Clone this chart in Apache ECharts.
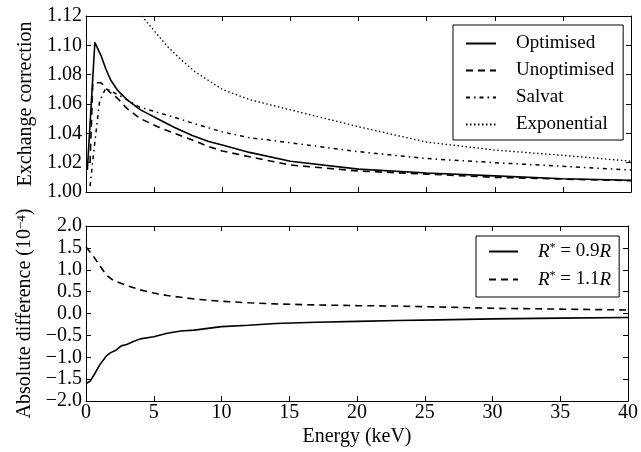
<!DOCTYPE html>
<html>
<head>
<meta charset="utf-8">
<script src="https://cdn.jsdelivr.net/npm/echarts@6/dist/echarts.min.js"></script>
<style>
  html, body { margin: 0; padding: 0; background: #fff; }
  #chart-container { width: 641px; height: 452px; }
</style>
</head>
<body>
<div id="chart-container"></div>
<script>
var dom = document.getElementById('chart-container');
var myChart = echarts.init(dom, null, { renderer: 'canvas' });

// top panel: exchange correction vs energy (keV)
var optE = [0.1, 0.65, 1.1, 1.45, 1.8, 2.3, 3.0, 4.0, 5.25, 6.5, 7.8, 9.0, 10, 12, 15, 20, 25, 30, 35, 40];
var optV = [1.015, 1.102, 1.093, 1.084, 1.0765, 1.0695, 1.063, 1.056, 1.050, 1.044, 1.0385, 1.0345, 1.032, 1.027, 1.021, 1.0156, 1.013, 1.011, 1.009, 1.008];

var unoptE = [0.3, 0.5, 1.1, 1.7, 2.3, 3.0, 4.0, 5.25, 6.5, 7.8, 9.0, 10, 12, 15, 20, 25, 30, 35, 40];
var unoptV = [1.02, 1.0745, 1.0745, 1.0685, 1.064, 1.057, 1.050, 1.0445, 1.040, 1.0355, 1.031, 1.028, 1.024, 1.0184, 1.0143, 1.0122, 1.010, 1.0088, 1.0077];

var salvatE = [0.3, 0.6, 1.0, 1.45, 2.0, 3.0, 3.9, 5.5, 7.0, 7.8, 10, 12, 15, 20, 25, 30, 35, 40];
var salvatV = [1.004, 1.030, 1.062, 1.0707, 1.068, 1.063, 1.058, 1.0536, 1.0495, 1.047, 1.041, 1.037, 1.0336, 1.0275, 1.0228, 1.020, 1.0175, 1.015];

var expoE = [4.1, 5, 6, 7, 8, 9, 10, 12, 15, 20, 25, 30, 35, 40];
var expoV = [1.12, 1.110, 1.099, 1.090, 1.082, 1.076, 1.070, 1.063, 1.056, 1.0445, 1.034, 1.0286, 1.025, 1.021];

// bottom panel: absolute difference (1e-4)
var lowE = [0, 0.3, 0.6, 1.0, 1.5, 1.8, 2.2, 2.6, 3.0, 3.5, 4.0, 5.0, 6.0, 7.0, 8.0, 9.0, 10, 12, 14, 17, 20, 23, 26, 30, 35, 40];
var lowV = [-1.60, -1.55, -1.40, -1.18, -0.97, -0.90, -0.84, -0.74, -0.71, -0.64, -0.58, -0.53, -0.45, -0.40, -0.38, -0.34, -0.30, -0.27, -0.23, -0.20, -0.18, -0.16, -0.145, -0.123, -0.105, -0.09];

var highE = [0, 0.5, 1.0, 1.5, 2.0, 3.0, 4.0, 5.0, 6.0, 7.0, 8.0, 10, 12, 14, 17, 20, 23, 26, 30, 35, 40];
var highV = [1.52, 1.33, 1.10, 0.88, 0.76, 0.64, 0.54, 0.47, 0.41, 0.37, 0.33, 0.28, 0.245, 0.22, 0.195, 0.18, 0.17, 0.15, 0.12, 0.10, 0.08];

var xTicks = [0, 5, 10, 15, 20, 25, 30, 35, 40];

function pairs(xs, ys) {
  return xs.map(function (x, i) { return [x, ys[i]]; });
}

var FONT = 'Liberation Serif';

function xAx(grid, pos, labels) {
  return {
    type: 'value', gridIndex: grid, position: pos,
    min: xTicks[0], max: xTicks[xTicks.length - 1], interval: 5,
    axisLine: { show: true, onZero: false, lineStyle: { color: '#000', width: 1 } },
    axisTick: { show: true, inside: true, length: 5, lineStyle: { color: '#000' } },
    axisLabel: { show: labels, color: '#000', fontFamily: FONT, fontSize: 20, margin: 2 },
    splitLine: { show: false },
    name: labels ? 'Energy (keV)' : '',
    nameLocation: 'middle', nameGap: 26,
    nameTextStyle: { color: '#000', fontFamily: FONT, fontSize: 20 }
  };
}

function yAx(grid, pos, min, max, step, digits, name) {
  return {
    type: 'value', gridIndex: grid, position: pos,
    min: min, max: max, interval: step,
    axisLine: { show: true, onZero: false, lineStyle: { color: '#000', width: 1 } },
    axisTick: { show: true, inside: true, length: 5, lineStyle: { color: '#000' } },
    axisLabel: {
      show: pos === 'left', color: '#000', fontFamily: FONT, fontSize: 20, margin: 4,
      formatter: function (v) { return v.toFixed(digits).replace('-', '\u2212'); }
    },
    splitLine: { show: false },
    name: name || '', nameLocation: 'middle', nameGap: 47, nameRotate: 90,
    nameTextStyle: {
      color: '#000', fontFamily: FONT, fontSize: 20,
      rich: { s: { fontFamily: FONT, fontSize: 13, verticalAlign: 'top', color: '#000' } }
    }
  };
}

function line(name, xs, ys, xi, yi, type, width) {
  return {
    name: name, type: 'line', xAxisIndex: xi, yAxisIndex: yi,
    data: pairs(xs, ys), symbol: 'none', clip: true,
    lineStyle: { color: '#000', width: width, type: type },
    itemStyle: { color: '#000' }
  };
}

var legendText = {
  color: '#000', fontFamily: FONT, fontSize: 19, lineHeight: 19, padding: [0, 0, 0, 15],
  rich: {
    i: { fontFamily: FONT, fontSize: 19, fontStyle: 'italic', color: '#000' },
    n: { fontFamily: FONT, fontSize: 19, color: '#000' },
    s: { fontFamily: FONT, fontSize: 12, verticalAlign: 'top', color: '#000' }
  }
};

var option = {
  animation: false,
  backgroundColor: '#fff',
  grid: [
    { left: 86, top: 16, width: 545, height: 176, show: false },
    { left: 86, top: 226, width: 545, height: 175, show: false }
  ],
  xAxis: [xAx(0, 'bottom', false), xAx(0, 'top', false), xAx(1, 'bottom', true), xAx(1, 'top', false)],
  yAxis: [
    yAx(0, 'left', 1.00, 1.12, 0.02, 2, 'Exchange correction'),
    yAx(0, 'right', 1.00, 1.12, 0.02, 2),
    yAx(1, 'left', -2, 2, 0.5, 1, 'Absolute difference (10{s|\u22124})'),
    yAx(1, 'right', -2, 2, 0.5, 1)
  ],
  legend: [
    {
      data: ['Optimised', 'Unoptimised', 'Salvat', 'Exponential'],
      orient: 'vertical', left: 453, top: 25,
      padding: [9, 9, 6, 12], itemGap: 8, itemWidth: 30, itemHeight: 14,
      borderColor: '#000', borderWidth: 1, borderRadius: 0, backgroundColor: '#fff',
      itemStyle: { opacity: 0 },
      textStyle: legendText
    },
    {
      data: ['R09', 'R11'],
      orient: 'vertical', left: 476, top: 236,
      padding: [6, 8, 8, 12], itemGap: 9, itemWidth: 29, itemHeight: 14,
      borderColor: '#000', borderWidth: 1, borderRadius: 0, backgroundColor: '#fff',
      itemStyle: { opacity: 0 },
      textStyle: legendText,
      formatter: function (n) {
        return n === 'R09' ? '{i|R}{s|*}{n| = 0.9}{i|R}' : '{i|R}{s|*}{n| = 1.1}{i|R}';
      }
    }
  ],
  series: [
    line('Optimised', optE, optV, 0, 0, 'solid', 1.6),
    line('Unoptimised', unoptE, unoptV, 0, 0, [7, 5], 1.6),
    line('Salvat', salvatE, salvatV, 0, 0, [4, 4, 1.5, 4], 1.5),
    line('Exponential', expoE, expoV, 0, 0, [1.5, 2.5], 1.3),
    line('R09', lowE, lowV, 2, 2, 'solid', 1.6),
    line('R11', highE, highV, 2, 2, [7, 5], 1.6)
  ]
};

myChart.setOption(option);
window.addEventListener('resize', myChart.resize);
</script>
</body>
</html>
